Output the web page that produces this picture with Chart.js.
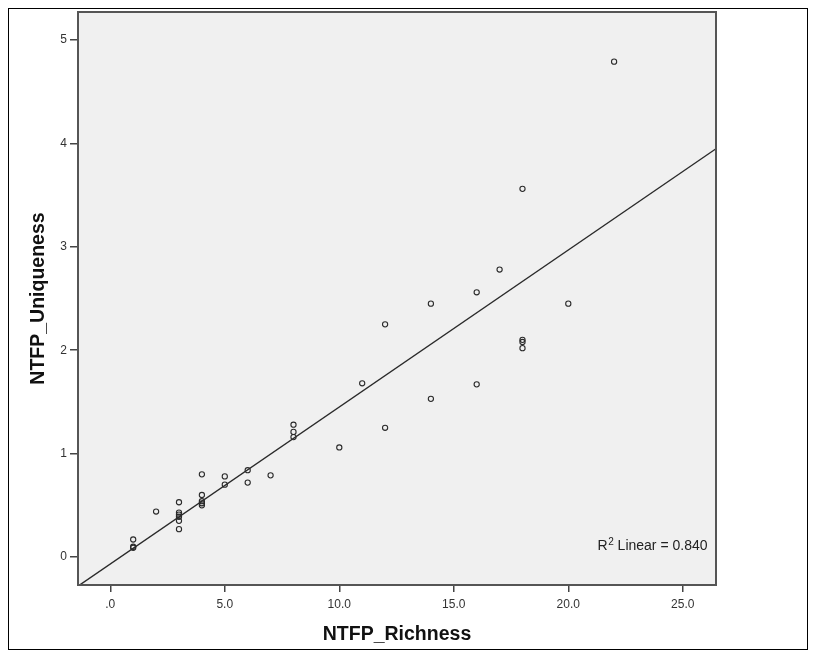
<!DOCTYPE html>
<html>
<head>
<meta charset="utf-8">
<script src="https://cdn.jsdelivr.net/npm/chart.js@4.4.0/dist/chart.umd.min.js"></script>
<style>
  html, body { margin: 0; padding: 0; background: #ffffff; }
  #wrap { width: 819px; height: 660px; position: relative; }
</style>
</head>
<body>
<div id="wrap"><canvas id="c" width="819" height="660"></canvas></div>
<script>
// ---- Data ----
const richness = [1, 1, 1, 2, 3, 3, 3, 3, 3, 3, 4, 4, 4, 4, 4, 5, 5, 6, 6, 7, 8, 8, 8,
                  10, 11, 12, 12, 14, 14, 16, 16, 17, 18, 18, 18, 18, 20, 22];
const uniqueness = [0.17, 0.10, 0.09, 0.44, 0.53, 0.43, 0.41, 0.39, 0.35, 0.27,
                    0.80, 0.60, 0.54, 0.52, 0.50, 0.78, 0.70, 0.84, 0.72, 0.79,
                    1.28, 1.21, 1.16, 1.06, 1.68, 2.25, 1.25, 2.45, 1.53, 2.56, 1.67,
                    2.78, 3.56, 2.10, 2.08, 2.02, 2.45, 4.79];
const xTickValues = [0, 5, 10, 15, 20, 25];
const xTickLabels = ['.0', '5.0', '10.0', '15.0', '20.0', '25.0'];
const yTickValues = [0, 1, 2, 3, 4, 5];
const yTickLabels = ['0', '1', '2', '3', '4', '5'];
const xTitle = 'NTFP_Richness';
const yTitle = 'NTFP_Uniqueness';
const fitLabelMain = 'R';
const fitLabelSup = '2';
const fitLabelRest = ' Linear = 0.840';
const xRange = [-1.41, 26.45];
const yRange = [-0.27, 5.27];

// ---- Least-squares fit line computed from the data ----
const n = richness.length;
const mx = richness.reduce((a, b) => a + b, 0) / n;
const my = uniqueness.reduce((a, b) => a + b, 0) / n;
let sxy = 0, sxx = 0;
for (let i = 0; i < n; i++) { sxy += (richness[i] - mx) * (uniqueness[i] - my); sxx += (richness[i] - mx) ** 2; }
const slope = sxy / sxx;
const intercept = my - slope * mx;
const fitPoints = [xRange[0], xRange[1]].map(x => ({ x: x, y: intercept + slope * x }));

const points = richness.map((x, i) => ({ x: x, y: uniqueness[i] }));

const FONT = "'Liberation Sans', Arial, sans-serif";

const framePlugin = {
  id: 'frame',
  beforeDraw(chart) {
    const { ctx, chartArea: a } = chart;
    ctx.save();
    ctx.fillStyle = '#ffffff';
    ctx.fillRect(0, 0, chart.width, chart.height);
    ctx.fillStyle = '#f0f0f0';
    ctx.fillRect(a.left, a.top, a.right - a.left, a.bottom - a.top);
    ctx.restore();
  },
  afterDraw(chart) {
    const { ctx, chartArea: a } = chart;
    ctx.save();
    // plot frame
    ctx.strokeStyle = '#555555';
    ctx.lineWidth = 2;
    ctx.strokeRect(a.left, a.top, a.right - a.left, a.bottom - a.top);
    // outer frame
    ctx.strokeStyle = '#000000';
    ctx.lineWidth = 1;
    ctx.strokeRect(8.5, 8.5, 799, 641);
    // R^2 annotation
    ctx.fillStyle = '#222222';
    ctx.textBaseline = 'alphabetic';
    const baseY = a.bottom - 35;
    ctx.font = '14px ' + FONT;
    const wRest = ctx.measureText(fitLabelRest).width;
    ctx.font = '10px ' + FONT;
    const wSup = ctx.measureText(fitLabelSup).width;
    ctx.font = '14px ' + FONT;
    const wMain = ctx.measureText(fitLabelMain).width;
    let x = a.right - 9 - wRest - wSup - wMain;
    ctx.textAlign = 'left';
    ctx.fillText(fitLabelMain, x, baseY);
    x += wMain + 0.5;
    ctx.font = '10px ' + FONT;
    ctx.fillText(fitLabelSup, x, baseY - 5.5);
    x += wSup;
    ctx.font = '14px ' + FONT;
    ctx.fillText(fitLabelRest, x, baseY);
    ctx.restore();
  }
};

new Chart(document.getElementById('c'), {
  type: 'scatter',
  data: {
    datasets: [
      {
        type: 'scatter',
        label: 'NTFP',
        data: points,
        pointRadius: 2.6,
        pointHoverRadius: 2.6,
        pointBorderWidth: 1.1,
        borderColor: '#2a2a2a',
        backgroundColor: 'rgba(0,0,0,0)',
        order: 1
      },
      {
        type: 'line',
        label: 'Linear fit',
        data: fitPoints,
        borderColor: '#2a2a2a',
        borderWidth: 1.4,
        pointRadius: 0,
        fill: false,
        tension: 0,
        order: 2
      }
    ]
  },
  options: {
    responsive: false,
    animation: false,
    events: [],
    layout: { padding: { left: 0, right: 103, top: 12, bottom: 0 } },
    plugins: { legend: { display: false }, tooltip: { enabled: false } },
    scales: {
      x: {
        type: 'linear',
        min: xRange[0],
        max: xRange[1],
        afterBuildTicks(scale) { scale.ticks = xTickValues.map(v => ({ value: v })); },
        afterFit(scale) { scale.height = 75; },
        border: { display: false },
        grid: { drawOnChartArea: false, drawTicks: true, tickLength: 7, color: '#444444', lineWidth: 1.5 },
        ticks: {
          padding: 5,
          color: '#333333',
          font: { family: FONT, size: 12 },
          callback(value) { const i = xTickValues.indexOf(value); return i >= 0 ? xTickLabels[i] : ''; }
        },
        title: {
          display: true,
          text: xTitle,
          color: '#111111',
          font: { family: FONT, size: 19.5, weight: 'bold' },
          padding: { top: 0, bottom: 14 }
        }
      },
      y: {
        type: 'linear',
        min: yRange[0],
        max: yRange[1],
        afterBuildTicks(scale) { scale.ticks = yTickValues.map(v => ({ value: v })); },
        afterFit(scale) { scale.width = 78; },
        border: { display: false },
        grid: { drawOnChartArea: false, drawTicks: true, tickLength: 8, color: '#444444', lineWidth: 1.5 },
        ticks: {
          padding: 3,
          color: '#333333',
          font: { family: FONT, size: 12 },
          callback(value) { const i = yTickValues.indexOf(value); return i >= 0 ? yTickLabels[i] : ''; }
        },
        title: {
          display: true,
          text: yTitle,
          color: '#111111',
          font: { family: FONT, size: 19.5, weight: 'bold' },
          padding: { top: 27, bottom: 0 }
        }
      }
    }
  },
  plugins: [framePlugin]
});
</script>
</body>
</html>
